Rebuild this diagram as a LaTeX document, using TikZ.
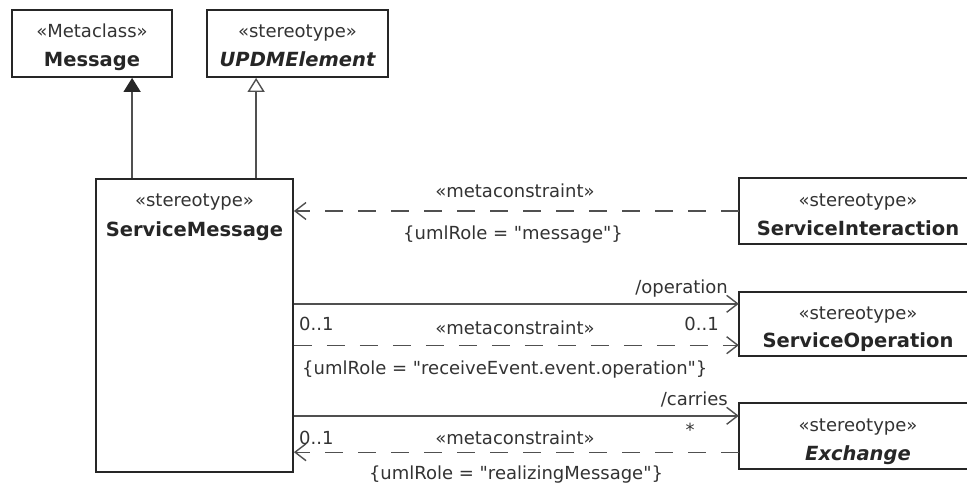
\documentclass[tikz,border=0pt]{standalone}
\usepackage{fontspec}
\setmainfont{DejaVu Sans}[Ligatures=TeXOff]
\usetikzlibrary{arrows.meta}
\definecolor{ink}{HTML}{262626}
\definecolor{lin}{HTML}{505050}
\definecolor{txt}{HTML}{333333}
\tikzset{
  box/.style={draw=ink, line width=1.8pt, rectangle, inner sep=0pt},
  openbox/.style={rectangle, inner sep=0pt},
  ster/.style={font=\fontsize{18}{20}\selectfont, text=txt, anchor=mid, inner sep=0pt, yshift=-5pt},
  nm/.style={font=\fontsize{19.5}{22}\selectfont\bfseries, text=ink, anchor=mid, inner sep=0pt, yshift=-6pt},
  lbl/.style={font=\fontsize{18}{20}\selectfont, text=txt, anchor=mid, inner sep=0pt, yshift=-5pt},
  conn/.style={draw=lin, line width=1.4pt},
  dep/.style={conn, dash pattern=on 18pt off 15pt},
  opentip/.style={-{Straight Barb[length=11pt,width=17pt,line width=1.4pt]}},
  genfill/.style={-{Triangle[length=14pt,width=17pt,fill=ink,color=ink]}},
  genopen/.style={-{Triangle[open,length=14pt,width=17pt,fill=white,color=lin,line width=1.4pt]}}
}
\begin{document}
\begin{tikzpicture}[x=1pt,y=-1pt]
\useasboundingbox (0,0) rectangle (967,485);
\fill[white] (0,0) rectangle (967,485);

% boxes
\node[box, minimum width=160pt, minimum height=67pt] (msg) at (92,43.5) {};
\node[ster] (msgS) at (92,30) {«Metaclass»};
\node[nm] (msgN) at (92,58) {Message};

\node[box, minimum width=181pt, minimum height=67pt] (upd) at (297.5,43.5) {};
\node[ster] (updS) at (297.5,30) {«stereotype»};
\node[nm, font=\fontsize{19.5}{22}\selectfont\bfseries\itshape] (updN) at (297.5,58) {UPDMElement};

\node[box, minimum width=197pt, minimum height=293pt] (sm) at (194.5,325.5) {};
\node[ster] (smS) at (194.5,199) {«stereotype»};
\node[nm] (smN) at (194.5,228) {ServiceMessage};

\node[openbox, minimum width=228pt, minimum height=66pt] (si) at (853,211) {};
\draw[draw=ink, line width=1.8pt] (si.north east) -- (si.north west) -- (si.south west) -- (si.south east);
\node[ster] (siS) at (858,199) {«stereotype»};
\node[nm] (siN) at (858,227) {ServiceInteraction};

\node[openbox, minimum width=228pt, minimum height=64pt] (so) at (853,324) {};
\draw[draw=ink, line width=1.8pt] (so.north east) -- (so.north west) -- (so.south west) -- (so.south east);
\node[ster] (soS) at (858,312) {«stereotype»};
\node[nm] (soN) at (858,339) {ServiceOperation};

\node[openbox, minimum width=228pt, minimum height=66pt] (ex) at (853,436) {};
\draw[draw=ink, line width=1.8pt] (ex.north east) -- (ex.north west) -- (ex.south west) -- (ex.south east);
\node[ster] (exS) at (858,424) {«stereotype»};
\node[nm, font=\fontsize{19.5}{22}\selectfont\bfseries\itshape] (exN) at (858,452) {Exchange};

% generalizations
\coordinate (g1a) at ([xshift=37pt]sm.north west);
\coordinate (g1b) at (g1a |- msg.south);
\draw[conn, genfill] (g1a) -- (g1b);
\coordinate (g2a) at ([xshift=161pt]sm.north west);
\coordinate (g2b) at (g2a |- upd.south);
\draw[conn, genopen] (g2a) -- (g2b);

% ServiceInteraction -> ServiceMessage
\coordinate (c1) at (si.west -| sm.east);
\draw[dep, opentip] (si.west) -- (c1);
\node[lbl] (l1a) at (515,190) {«metaconstraint»};
\node[lbl] (l1b) at (513,232) {\{umlRole = "message"\}};

% /operation
\coordinate (opE) at ([yshift=-12pt]so.north west);
\coordinate (opS) at (opE -| sm.east);
\draw[conn, opentip] (opS) -- (opE);
\node[lbl, anchor=mid east] (l2a) at (728,286) {/operation};

% dependency to ServiceOperation
\coordinate (d2E) at ([yshift=11pt]so.south west);
\coordinate (d2S) at (d2E -| sm.east);
\draw[dep, opentip] (d2S) -- (d2E);
\node[lbl, anchor=mid west] (l3a) at (299,323) {0..1};
\node[lbl, anchor=mid east] (l3b) at (719,323) {0..1};
\node[lbl] (l3c) at (515,327) {«metaconstraint»};
\node[lbl, anchor=mid west] (l3d) at (302,367) {\{umlRole = "receiveEvent.event.operation"\}};

% /carries
\coordinate (caE) at ([yshift=-13pt]ex.north west);
\coordinate (caS) at (caE -| sm.east);
\draw[conn, opentip] (caS) -- (caE);
\node[lbl, anchor=mid east] (l4a) at (728,398) {/carries};

% dependency from Exchange
\coordinate (d4E) at ([yshift=17pt]ex.south west);
\coordinate (d4S) at (d4E -| sm.east);
\draw[dep, opentip] (d4E) -- (d4S);
\node[lbl, anchor=mid west] (l5a) at (299,437) {0..1};
\node[lbl] (l5b) at (690,429) {*};
\node[lbl] (l5c) at (515,437) {«metaconstraint»};
\node[lbl] (l5d) at (516,472) {\{umlRole = "realizingMessage"\}};
\end{tikzpicture}
\end{document}
